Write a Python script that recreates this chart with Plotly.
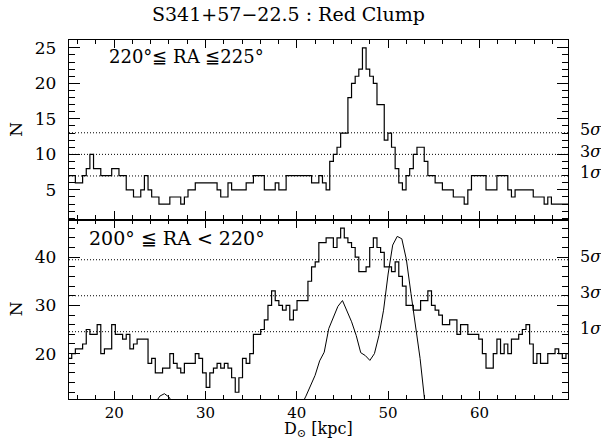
import plotly.graph_objects as go

# ---------------- data ----------------
bin_start = 14.95      # kpc, left edge of first bin
bin_width = 0.398      # kpc

top_counts = [
    7, 7, 6, 6, 7, 8, 10, 8, 8, 7,
    7, 7, 8, 8, 7, 7, 5, 5, 4, 4,
    5, 7, 5, 4, 4, 3, 3, 3, 4, 4,
    4, 3, 4, 5, 5, 6, 6, 6, 6, 6,
    6, 5, 4, 4, 6, 5, 5, 5, 5, 6,
    6, 7, 7, 7, 5, 5, 5, 6, 5, 5,
    7, 7, 7, 7, 7, 7, 7, 6, 6, 7,
    6, 5, 9, 10, 11, 13, 13, 18, 20, 21,
    22, 25, 22, 21, 20, 17, 17, 12, 13, 11,
    8, 6, 5, 7, 8, 10, 11, 11, 9, 7,
    7, 6, 6, 5, 5, 5, 4, 4, 4, 3,
    5, 7, 7, 7, 7, 5, 5, 5, 7, 7,
    7, 5, 4, 5, 5, 5, 5, 5, 4, 4,
    4, 3, 4, 3, 3, 3, 3, 3,
]

bottom_counts = [
    19, 20, 21, 21, 22, 25, 24, 24, 26, 20,
    21, 21, 26, 24, 24, 23, 24, 21, 22, 23,
    23, 23, 18, 19, 16, 16, 17, 17, 20, 18,
    17, 16, 18, 18, 18, 20, 19, 16, 13, 16,
    17, 18, 17, 18, 17, 15, 12, 15, 19, 18,
    20, 24, 24, 25, 27, 30, 33, 31, 30, 29,
    30, 27, 29, 31, 31, 31, 35, 38, 39, 43,
    43, 44, 44, 42, 44, 46, 44, 43, 42, 40,
    37, 37, 38, 42, 44, 42, 41, 38, 38, 37,
    39, 36, 34, 30, 30, 29, 29, 31, 31, 33,
    30, 29, 28, 26, 26, 27, 27, 24, 26, 26,
    24, 24, 24, 23, 20, 17, 17, 20, 23, 20,
    22, 20, 23, 23, 24, 25, 26, 22, 18, 20,
    18, 18, 20, 20, 21, 20, 19, 20,
]

curve_x = [24.0, 24.5, 25.0, 25.5, 26.0, 26.5, 27.0, 28.0, 30.0, 32.0, 34.0, 36.0,
           38.0, 39.5, 40.5, 41.0, 41.5, 42.0, 42.5, 43.0, 43.5, 44.0, 44.5, 45.0,
           45.5, 46.0, 46.5, 47.0, 47.5, 48.0, 48.5, 49.0, 49.5, 50.0, 50.5, 51.0,
           51.5, 52.0, 52.5, 53.0, 53.5, 54.0, 54.5]
curve_y = [7.5, 9.8, 11.2, 11.7, 11.0, 9.5, 8.0, 6.0, 5.0, 5.0, 5.0, 5.0,
           5.0, 6.5, 9.3, 11.2, 13.2, 15.5, 18.5, 20.3, 25.2, 27.5, 29.8, 31.0,
           28.8, 26.6, 23.8, 20.2, 19.6, 18.6, 20.0, 23.8, 29.0, 36.5, 42.5, 44.3,
           43.8, 39.5, 32.5, 26.0, 19.0, 10.3, 3.0]

top_sigma = [6.96, 10.0, 13.04]
bottom_sigma = [24.55, 32.0, 39.46]
sigma_labels = ["1", "3", "5"]

x_range = [15.05, 69.7]
top_range = [0.83, 26.1]
bottom_range = [10.6, 47.8]

title_text = "S341+57\u221222.5 : Red Clump"
top_label = "220\u00b0\u2266 RA \u2266225\u00b0"
bottom_label = "200\u00b0 \u2266 RA < 220\u00b0"
x_title = "D<sub>\u2299</sub> [kpc]"
y_title = "N"

# ---------------- figure ----------------
FONT = "DejaVu Serif"
TICK_SIZE = 15


def step_xy(counts):
    xs = [bin_start + bin_width * i for i in range(len(counts) + 1)]
    ys = list(counts) + [counts[-1]]
    return xs, ys


fig = go.Figure()

tx, ty = step_xy(top_counts)
bx, by = step_xy(bottom_counts)

fig.add_trace(go.Scatter(x=tx, y=ty, mode="lines", line=dict(shape="hv", color="black", width=1.2),
                         xaxis="x2", yaxis="y2", showlegend=False, hoverinfo="skip"))
fig.add_trace(go.Scatter(x=bx, y=by, mode="lines", line=dict(shape="hv", color="black", width=1.2),
                         xaxis="x", yaxis="y", showlegend=False, hoverinfo="skip"))
fig.add_trace(go.Scatter(x=curve_x, y=curve_y, mode="lines", line=dict(color="black", width=1.0),
                         xaxis="x", yaxis="y", showlegend=False, hoverinfo="skip"))

# dotted sigma lines
for val in top_sigma:
    fig.add_shape(type="line", xref="x2 domain", yref="y2", x0=0, x1=1, y0=val, y1=val,
                  line=dict(color="black", width=1, dash="1px,2px"))
for val in bottom_sigma:
    fig.add_shape(type="line", xref="x domain", yref="y", x0=0, x1=1, y0=val, y1=val,
                  line=dict(color="black", width=1, dash="1px,2px"))

ann = []
for val, lab in zip(top_sigma, sigma_labels):
    ann.append(dict(text=lab + "<i>\u03c3</i>", xref="paper", yref="y2", x=1.02, y=val, yshift=3,
                    xanchor="left", yanchor="middle", showarrow=False,
                    font=dict(family=FONT, size=16, color="black")))
for val, lab in zip(bottom_sigma, sigma_labels):
    ann.append(dict(text=lab + "<i>\u03c3</i>", xref="paper", yref="y", x=1.02, y=val, yshift=3,
                    xanchor="left", yanchor="middle", showarrow=False,
                    font=dict(family=FONT, size=16, color="black")))

ann += [
    dict(text=title_text, xref="paper", yref="paper", x=0.439, y=1.072, xanchor="center", yanchor="middle",
         showarrow=False, font=dict(family=FONT, size=19, color="black")),
    dict(text=top_label, xref="paper", yref="paper", x=0.0756, y=0.955, xanchor="left", yanchor="middle",
         showarrow=False, font=dict(family=FONT, size=18, color="black")),
    dict(text=bottom_label, xref="paper", yref="paper", x=0.0367, y=0.448, xanchor="left", yanchor="middle",
         showarrow=False, font=dict(family=FONT, size=19, color="black")),
    dict(text=x_title, xref="paper", yref="paper", x=0.5, y=-0.117, xanchor="center", yanchor="bottom",
         showarrow=False, borderpad=0, font=dict(family=FONT, size=16, color="black")),
    dict(text=y_title, xref="paper", yref="paper", x=-0.106, y=0.75, xanchor="center", yanchor="middle",
         textangle=-90, showarrow=False, font=dict(family=FONT, size=17, color="black")),
    dict(text=y_title, xref="paper", yref="paper", x=-0.106, y=0.25, xanchor="center", yanchor="middle",
         textangle=-90, showarrow=False, font=dict(family=FONT, size=17, color="black")),
]

common_x = dict(showline=True, linecolor="black", linewidth=1.3, mirror="ticks", ticks="inside",
                tickcolor="black", tickwidth=1, ticklen=8, tickmode="linear", tick0=0, dtick=10,
                minor=dict(ticks="inside", tickmode="linear", tick0=0, dtick=2, ticklen=4,
                           tickcolor="black", tickwidth=1, showgrid=False),
                showgrid=False, zeroline=False, range=x_range,
                tickfont=dict(family=FONT, size=TICK_SIZE, color="black"))

fig.update_layout(
    width=601, height=441,
    margin=dict(l=69, r=33, t=40, b=42),
    paper_bgcolor="white", plot_bgcolor="white",
    font=dict(family=FONT, color="black"),
    xaxis=dict(domain=[0, 1], anchor="y", ticklabelstandoff=0, **common_x),
    xaxis2=dict(domain=[0, 1], anchor="y2", matches="x", showticklabels=False, **common_x),
    yaxis=dict(domain=[0, 0.5], anchor="x", range=bottom_range, showline=True, linecolor="black",
               linewidth=1.3, mirror="ticks", ticks="inside", tickcolor="black", tickwidth=1, ticklen=11,
               tickmode="linear", tick0=0, dtick=10,
               minor=dict(ticks="inside", tickmode="linear", tick0=0, dtick=2, ticklen=6,
                          tickcolor="black", tickwidth=1, showgrid=False),
               showgrid=False, zeroline=False, ticklabelstandoff=8,
               tickfont=dict(family=FONT, size=17, color="black")),
    yaxis2=dict(domain=[0.5, 1], anchor="x2", range=top_range, showline=True, linecolor="black",
                linewidth=1.3, mirror="ticks", ticks="inside", tickcolor="black", tickwidth=1, ticklen=11,
                tickmode="linear", tick0=0, dtick=5,
                minor=dict(ticks="inside", tickmode="linear", tick0=0, dtick=1, ticklen=6,
                           tickcolor="black", tickwidth=1, showgrid=False),
                showgrid=False, zeroline=False, ticklabelstandoff=8,
                tickfont=dict(family=FONT, size=17, color="black")),
    annotations=ann,
)

fig.write_html("out.html", config={"displayModeBar": False},
               post_script="document.body.style.margin='0';document.body.style.padding='0';")
